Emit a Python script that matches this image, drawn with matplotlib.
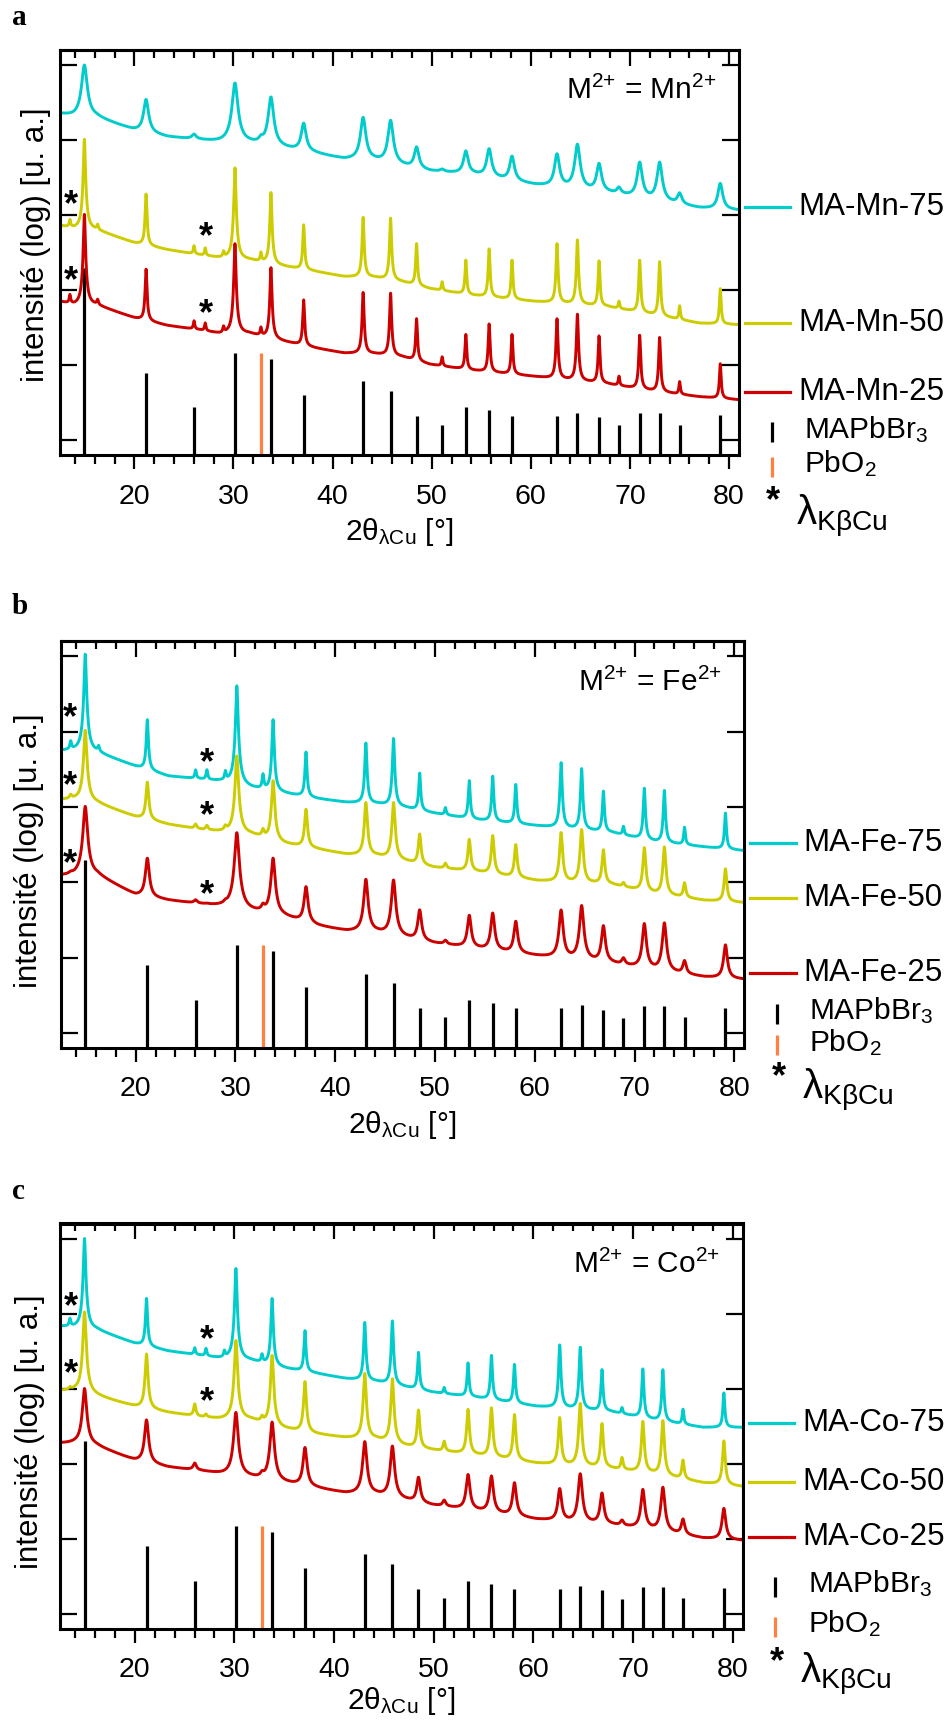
"""
XRD patterns of MA-M-x samples (M = Mn, Fe, Co) on a log intensity scale,
with MAPbBr3 / PbO2 reference sticks.
"""

import numpy as np
import matplotlib.pyplot as plt
from matplotlib.ticker import NullFormatter

plt.rcParams['font.family'] = ['Liberation Sans', 'DejaVu Sans']
plt.rcParams['mathtext.fontset'] = 'custom'
plt.rcParams['mathtext.rm'] = 'Liberation Sans'
plt.rcParams['mathtext.it'] = 'Liberation Sans:italic'
plt.rcParams['mathtext.bf'] = 'Liberation Sans:bold'

# -------------------------------------------------
# 1. Data (intensities in decades, log10)
# -------------------------------------------------
# reflections seen in the measured patterns (13.5 and 27.15 are K-beta lines)
peak_pos = [13.5, 14.96, 16.3, 21.18, 26.02, 27.15, 29.0, 30.15, 32.77, 33.78,
            37.08, 43.08, 45.85, 48.47, 51.05, 53.44, 55.79, 58.10, 62.64,
            64.70, 66.88, 68.89, 70.98, 72.99, 75.01, 79.11]
# positions where the background level was read
bg_pos = [12.5, 14.0, 16.2, 20.0, 23.3, 26.6, 28.6, 31.6, 34.9, 38.2, 41.2,
          44.2, 47.0, 49.8, 54.2, 60.3, 67.7, 72.0, 77.0, 81.0]

# reference pattern MAPbBr3 (stick tops) and PbO2
ref_pos = [14.96, 21.18, 26.02, 30.15, 33.78, 37.08, 43.08, 45.85, 48.47,
           51.05, 53.44, 55.79, 58.10, 62.64, 64.70, 66.88, 68.89, 70.98,
           72.99, 75.01, 79.11]
ref_top = [2.30, 0.90, 0.44, 1.17, 1.09, 0.61, 0.79, 0.66, 0.33, 0.21, 0.44,
           0.40, 0.33, 0.33, 0.37, 0.31, 0.20, 0.36, 0.36, 0.21, 0.34]
pbo2_pos = [32.77]
pbo2_top = [1.17]

# panel a : Mn
mn75_bg = [4.35, 4.31, 4.30, 4.13, 4.04, 4.00, 3.97, 3.95, 3.89, 3.82, 3.74,
           3.72, 3.65, 3.58, 3.54, 3.40, 3.29, 3.20, 3.09, 3.06]
mn75_pk = [0, 5.00, 0, 4.54, 4.07, 0, 0, 4.76, 3.99, 4.57, 4.22, 4.30, 4.26,
           3.90, 3.60, 3.85, 3.88, 3.78, 3.81, 3.94, 3.68, 3.35, 3.70, 3.70,
           3.28, 3.42]
mn50_bg = [2.86, 2.82, 2.80, 2.63, 2.54, 2.47, 2.43, 2.40, 2.32, 2.25, 2.18,
           2.17, 2.11, 2.02, 1.93, 1.85, 1.78, 1.68, 1.56, 1.54]
mn50_pk = [2.93, 4.01, 2.86, 3.28, 2.59, 2.56, 2.50, 3.63, 2.49, 3.30, 2.87,
           2.97, 2.96, 2.62, 2.11, 2.40, 2.55, 2.40, 2.62, 2.67, 2.39, 1.85,
           2.40, 2.38, 1.79, 2.02]
mn25_bg = [1.85, 1.80, 1.80, 1.63, 1.53, 1.47, 1.42, 1.42, 1.32, 1.23, 1.16,
           1.15, 1.11, 1.01, 0.93, 0.85, 0.75, 0.66, 0.58, 0.54]
mn25_pk = [1.93, 3.01, 1.86, 2.28, 1.59, 1.56, 1.50, 2.62, 1.49, 2.30, 1.87,
           1.97, 1.96, 1.62, 1.11, 1.41, 1.55, 1.41, 1.62, 1.68, 1.39, 0.85,
           1.40, 1.37, 0.78, 1.02]

# panel b : Fe
fe75_bg = [3.75, 3.75, 3.72, 3.54, 3.41, 3.37, 3.34, 3.25, 3.18, 3.11, 3.06,
           3.04, 2.99, 2.92, 2.83, 2.75, 2.66, 2.54, 2.47, 2.42]
fe75_pk = [3.86, 5.03, 3.79, 4.16, 3.49, 3.49, 3.45, 4.61, 3.42, 4.16, 3.73,
           3.85, 3.91, 3.45, 2.99, 3.35, 3.41, 3.30, 3.59, 3.51, 3.21, 2.74,
           3.25, 3.22, 2.73, 2.92]
fe50_bg = [3.10, 3.10, 3.05, 2.87, 2.77, 2.70, 2.67, 2.63, 2.51, 2.44, 2.37,
           2.35, 2.28, 2.20, 2.14, 2.02, 1.97, 1.85, 1.76, 1.73]
fe50_pk = [3.15, 4.02, 0, 3.33, 2.77, 2.75, 2.72, 3.68, 2.68, 3.35, 2.97,
           3.06, 3.06, 2.64, 2.25, 2.57, 2.62, 2.50, 2.66, 2.70, 2.43, 1.99,
           2.46, 2.47, 1.99, 2.18]
fe25_bg = [2.09, 2.09, 2.09, 1.83, 1.76, 1.71, 1.68, 1.61, 1.54, 1.42, 1.35,
           1.33, 1.26, 1.19, 1.12, 1.02, 0.92, 0.83, 0.74, 0.71]
fe25_pk = [2.11, 3.01, 0, 2.32, 1.76, 1.71, 1.70, 2.66, 1.66, 2.32, 1.94,
           2.04, 2.03, 1.63, 1.22, 1.56, 1.59, 1.48, 1.63, 1.69, 1.42, 0.98,
           1.45, 1.46, 0.95, 1.17]

# panel c : Co
co75_bg = [3.83, 3.81, 3.78, 3.60, 3.50, 3.44, 3.40, 3.37, 3.27, 3.20, 3.13,
           3.09, 3.02, 2.95, 2.88, 2.76, 2.69, 2.58, 2.48, 2.48]
co75_pk = [3.92, 5.00, 0, 4.20, 3.54, 3.53, 3.48, 4.60, 3.44, 4.20, 3.77,
           3.88, 3.90, 3.48, 3.01, 3.34, 3.44, 3.32, 3.58, 3.55, 3.25, 2.74,
           3.26, 3.25, 2.72, 2.94]
co50_bg = [2.97, 2.97, 2.90, 2.76, 2.68, 2.62, 2.59, 2.58, 2.46, 2.39, 2.34,
           2.32, 2.23, 2.18, 2.11, 2.00, 1.93, 1.86, 1.74, 1.69]
co50_pk = [3.00, 4.02, 0, 3.46, 2.79, 2.65, 0, 3.64, 2.60, 3.44, 3.09, 3.20,
           3.13, 2.71, 2.29, 2.72, 2.74, 2.65, 2.61, 2.80, 2.53, 2.07, 2.56,
           2.57, 2.04, 2.30]
co25_bg = [2.27, 2.27, 2.23, 2.04, 1.95, 1.90, 1.86, 1.81, 1.74, 1.67, 1.60,
           1.58, 1.51, 1.44, 1.37, 1.25, 1.18, 1.11, 1.00, 0.97]
co25_pk = [0, 3.00, 0, 2.58, 2.00, 0, 0, 2.68, 1.84, 2.55, 2.21, 2.29, 2.23,
           1.81, 1.50, 1.85, 1.83, 1.74, 1.66, 1.86, 1.60, 1.23, 1.65, 1.68,
           1.25, 1.40]

cyan, yellow, red = '#00CCCC', '#CCCC00', '#CC0000'
orange = '#FF8040'

# (name, ion, series: label, colour, background, peaks, half width)
panels = [
    ('a', 'Mn', [('MA-Mn-75', cyan, mn75_bg, mn75_pk, 0.24),
                 ('MA-Mn-50', yellow, mn50_bg, mn50_pk, 0.08),
                 ('MA-Mn-25', red, mn25_bg, mn25_pk, 0.08)]),
    ('b', 'Fe', [('MA-Fe-75', cyan, fe75_bg, fe75_pk, 0.09),
                 ('MA-Fe-50', yellow, fe50_bg, fe50_pk, 0.13),
                 ('MA-Fe-25', red, fe25_bg, fe25_pk, 0.18)]),
    ('c', 'Co', [('MA-Co-75', cyan, co75_bg, co75_pk, 0.09),
                 ('MA-Co-50', yellow, co50_bg, co50_pk, 0.12),
                 ('MA-Co-25', red, co25_bg, co25_pk, 0.18)]),
]

# K-beta markers (2theta, level)
stars = {
    'a': [(13.6, 3.13), (13.6, 2.11), (27.2, 2.70), (27.2, 1.68)],
    'b': [(13.4, 4.17), (13.4, 3.27), (13.4, 2.23),
          (27.2, 3.58), (27.2, 2.87), (27.2, 1.83)],
    'c': [(13.64, 4.08), (13.64, 3.18), (27.26, 3.64), (27.26, 2.81)],
}

# -------------------------------------------------
# 2. Layout (pixel-measured)
# -------------------------------------------------
W, H = 952, 1726
axes_px = {'a': (60, 50.0, 739, 455.4), 'b': (60.7, 641.4, 744.3, 1048.2),
           'c': (60, 1223.5, 742.7, 1628.5)}
letter_px = {'a': 25, 'b': 613.6, 'c': 1199}
# curve labels, MAPbBr3, PbO2, star, lambda levels
label_y = {'a': [3.11, 1.57, 0.65, 0.15, -0.31, -0.81, -1.13],
           'b': [2.52, 1.79, 0.80, 0.30, -0.12, -0.59, -0.88],
           'c': [2.54, 1.76, 1.02, 0.40, -0.14, -0.65, -0.93]}
ylabel_pos = {'a': (-0.036, 0.52), 'b': (-0.047, 0.485), 'c': (-0.044, 0.486)}
xlabel_off = {'a': 77, 'b': 77, 'c': 72}

x = np.arange(12.5, 81.0, 0.01)


def pattern(bg, pk, hw):
    inten = 10 ** np.interp(x, bg_pos, bg)
    for p, a in zip(peak_pos, pk):
        h = 10 ** a - 10 ** np.interp(p, bg_pos, bg)
        if h > 0:
            inten = inten + h / (1 + ((x - p) / hw) ** 2)
    return np.log10(inten)


fig = plt.figure(figsize=(W / 100, H / 100), dpi=100)

for name, ion, series in panels:
    x0, y0, x1, y1 = axes_px[name]
    ax = fig.add_axes([x0 / W, 1 - y1 / H, (x1 - x0) / W, (y1 - y0) / H])

    ax.vlines(ref_pos, -0.2, ref_top, color='k', lw=2.3, zorder=1)
    ax.vlines(pbo2_pos, -0.2, pbo2_top, color=orange, lw=2.3, zorder=1)
    for label, color, bg, pk, hw in series:
        ax.plot(x, pattern(bg, pk, hw), color=color, lw=2.1, zorder=2)

    for sx, sy in stars[name]:
        ax.text(sx, sy, '*', fontsize=26, fontweight='bold', ha='center',
                va='center', zorder=3)

    ax.set_xlim(12.5, 81.0)
    ax.set_ylim(-0.2, 5.2)
    ax.set_xticks(range(20, 81, 10))
    ax.set_xticks(np.arange(14, 81, 2), minor=True)
    ax.set_yticks(range(6))
    ax.yaxis.set_major_formatter(NullFormatter())
    ax.tick_params(axis='x', which='major', direction='out', length=10.3,
                   width=1.6, labelsize=20.5, pad=10)
    ax.tick_params(axis='x', which='minor', direction='out', length=6.4,
                   width=1.6)
    ax.tick_params(axis='y', direction='in', left=True, right=True,
                   length=12, width=1.6)
    for sp in ax.spines.values():
        sp.set_linewidth(2.2)

    top = ax.secondary_xaxis('top')
    top.set_xticks(range(20, 81, 10))
    top.set_xticks(np.arange(14, 81, 2), minor=True)
    top.xaxis.set_major_formatter(NullFormatter())
    top.tick_params(axis='x', which='major', direction='in', length=11.5,
                    width=1.6)
    top.tick_params(axis='x', which='minor', direction='in', length=5.5,
                    width=1.6)
    top.spines['top'].set_linewidth(2.2)

    ax.set_ylabel('intensité (log) [u. a.]', fontsize=22.5)
    ax.yaxis.set_label_coords(*ylabel_pos[name])
    ax.yaxis.label.set_va('center')
    ax.set_xlabel(r'$\mathregular{2θ_{λCu}}$ [°]', fontsize=21.5)
    ax.xaxis.set_label_coords(0.5, -xlabel_off[name] / (y1 - y0))
    ax.xaxis.label.set_va('center')

    ax.text(0.967, 0.90,
            r'M$^{\mathregular{2{+}}}$ = ' + ion + r'$^{\mathregular{2{+}}}$',
            fontsize=21.5, ha='right', va='center', transform=ax.transAxes)

    # labels to the right of the frame
    tr = ax.get_yaxis_transform()
    ly = label_y[name]
    for (label, color, bg, pk, hw), yy in zip(series, ly[:3]):
        ax.plot([1.009, 1.075], [yy, yy], color=color, lw=2.3,
                transform=tr, clip_on=False)
        ax.text(1.087, yy, label, fontsize=22.5, va='center', transform=tr)
    ax.plot([1.048], [ly[3] - 0.04], marker='|', ms=15, mew=2.3, color='k',
            transform=tr, clip_on=False, ls='none')
    ax.text(1.095, ly[3], 'MAPbBr$_\\mathregular{3}$', fontsize=21.5,
            va='center', transform=tr)
    ax.plot([1.048], [ly[4] - 0.04], marker='|', ms=15, mew=2.3,
            color=orange, transform=tr, clip_on=False, ls='none')
    ax.text(1.095, ly[4], 'PbO$_\\mathregular{2}$', fontsize=21.5,
            va='center', transform=tr)
    ax.text(1.05, ly[5], '*', fontsize=26, fontweight='bold', ha='center',
            va='center', transform=tr)
    ax.text(1.084, ly[6], r'$\mathregular{λ_{KβCu}}$', fontsize=29,
            va='baseline', transform=tr)

    fig.text(12 / W, 1 - letter_px[name] / H, name, fontsize=21,
             fontweight='bold', family='Liberation Serif', va='baseline')

fig.savefig('out.png', dpi=100)
